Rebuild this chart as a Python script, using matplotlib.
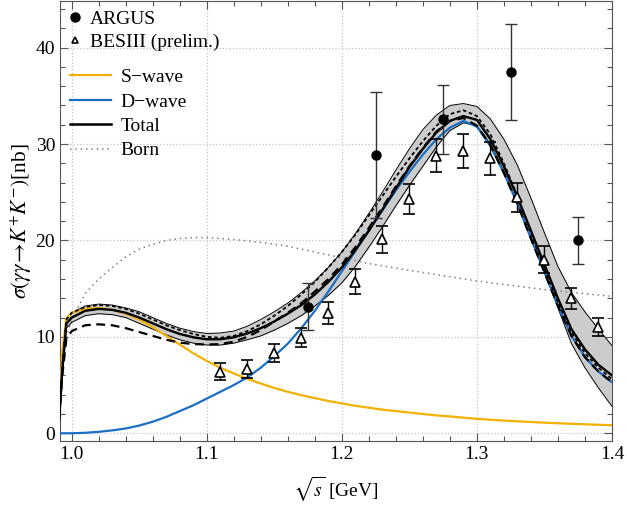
import numpy as np
import matplotlib
matplotlib.use('Agg')
import matplotlib.pyplot as plt
from matplotlib.ticker import MultipleLocator
from matplotlib.lines import Line2D

plt.rcParams['font.family'] = ['Liberation Serif', 'DejaVu Serif']
plt.rcParams['mathtext.fontset'] = 'stix'

# datos experimentales
argus_x = [1.175, 1.225, 1.275, 1.325, 1.375]
argus_y = [13.1, 28.9, 32.6, 37.5, 20.0]
argus_lo = [2.4, 6.6, 3.6, 5.0, 2.4]
argus_hi = [2.5, 6.5, 3.5, 5.0, 2.4]

bes_x = [1.11, 1.13, 1.15, 1.17, 1.19, 1.21, 1.23, 1.25, 1.27, 1.29, 1.31, 1.33, 1.35, 1.37, 1.39]
bes_y = [6.4, 6.7, 8.3, 9.9, 12.5, 15.7, 20.1, 24.3, 28.8, 29.3, 28.5, 24.5, 18.0, 14.0, 11.0]
bes_err = [0.9, 0.95, 0.95, 1.0, 1.15, 1.3, 1.4, 1.6, 1.75, 1.75, 1.75, 1.5, 1.4, 1.1, 0.95]

# curvas teoricas
xs = [0.99, 0.993, 0.996, 1.0, 1.01, 1.02, 1.03, 1.04, 1.05, 1.06, 1.07, 1.08, 1.09,
      1.10, 1.11, 1.12, 1.13, 1.14, 1.15, 1.16, 1.17, 1.18, 1.19, 1.20, 1.21, 1.22,
      1.23, 1.24, 1.25, 1.26, 1.27, 1.28, 1.29, 1.30, 1.31, 1.32, 1.33, 1.34, 1.35,
      1.36, 1.37, 1.38, 1.39, 1.40]
s_wave = [0.0, 8.5, 11.9, 12.5, 12.9, 13.0, 12.8, 12.4, 11.8, 11.0, 10.1, 9.2, 8.3,
          7.5, 6.8, 6.2, 5.65, 5.15, 4.7, 4.3, 3.95, 3.65, 3.35, 3.1, 2.85, 2.65,
          2.45, 2.3, 2.15, 2.0, 1.85, 1.75, 1.62, 1.5, 1.4, 1.32, 1.24, 1.17, 1.1,
          1.04, 0.98, 0.93, 0.88, 0.84]
d_wave = [0.0, 0.0, 0.0, 0.0, 0.05, 0.15, 0.3, 0.5, 0.8, 1.2, 1.7, 2.3, 2.9,
          3.6, 4.3, 5.0, 5.8, 6.8, 8.0, 9.3, 10.9, 12.7, 14.7, 16.8, 18.9, 21.1,
          23.1, 25.2, 27.1, 28.9, 30.5, 31.7, 32.4, 31.8, 29.8, 27.0, 23.8, 20.2, 16.7,
          13.2, 10.1, 7.9, 6.4, 5.3]
total = [0.0, 6.5, 11.4, 12.0, 12.7, 12.9, 12.8, 12.5, 12.0, 11.4, 10.8, 10.3, 9.95,
         9.75, 9.75, 9.95, 10.35, 10.9, 11.6, 12.4, 13.3, 14.4, 15.7, 17.2, 19.0, 21.0,
         23.2, 25.4, 27.6, 29.5, 31.2, 32.4, 32.9, 32.5, 30.5, 27.7, 24.5, 21.0, 17.5,
         14.0, 10.8, 8.7, 7.1, 6.0]
band_lo = [0.0, 6.0, 10.9, 11.5, 12.2, 12.4, 12.3, 12.0, 11.4, 10.8, 10.2, 9.7, 9.35,
           9.15, 9.15, 9.35, 9.7, 10.1, 10.7, 11.4, 12.2, 13.2, 14.3, 15.6, 17.3, 19.3,
           21.4, 23.6, 25.7, 27.7, 29.7, 31.4, 32.2, 31.9, 30.0, 27.2, 23.9, 20.3, 16.8,
           13.0, 9.3, 6.8, 4.7, 2.8]
band_hi = [0.0, 7.0, 11.9, 12.5, 13.2, 13.4, 13.3, 13.0, 12.6, 12.0, 11.4, 10.9, 10.55,
           10.35, 10.4, 10.6, 11.1, 11.8, 12.6, 13.5, 14.6, 15.8, 17.2, 18.8, 20.7, 22.8,
           25.0, 27.3, 29.5, 31.5, 33.0, 34.0, 34.2, 33.9, 32.6, 30.5, 27.8, 24.4, 20.8,
           17.3, 14.6, 12.6, 10.8, 9.1]
dash_a = [0.0, 6.0, 9.8, 10.6, 11.2, 11.3, 11.2, 10.9, 10.5, 10.1, 9.7, 9.4, 9.25,
          9.2, 9.25, 9.5, 10.0, 10.7, 11.6, 12.5, 13.5, 14.7, 16.0, 17.5, 19.3, 21.3,
          23.4, 25.6, 27.7, 29.6, 31.3, 32.4, 32.7, 31.9, 29.9, 27.0, 23.8, 20.2, 16.7,
          13.2, 10.1, 7.9, 6.4, 5.3]
dash_b = [0.0, 7.0, 11.8, 12.5, 13.1, 13.3, 13.2, 12.9, 12.4, 11.8, 11.2, 10.7, 10.3,
          10.0, 9.9, 10.1, 10.6, 11.3, 12.2, 13.2, 14.4, 15.7, 17.2, 18.8, 20.6, 22.6,
          24.6, 26.6, 28.5, 30.3, 31.9, 33.1, 33.5, 32.9, 31.0, 28.0, 24.6, 20.8, 17.1,
          13.6, 10.5, 8.3, 6.8, 5.6]

born_x = [0.99, 0.992, 0.995, 1.0, 1.006, 1.01, 1.02, 1.03, 1.04, 1.05, 1.06, 1.07,
          1.08, 1.09, 1.10, 1.12, 1.14, 1.16, 1.18, 1.20, 1.22, 1.25, 1.30, 1.35, 1.40]
born_y = [0.0, 6.0, 9.5, 11.8, 13.4, 14.5, 16.0, 17.2, 18.3, 19.1, 19.6, 20.0,
          20.2, 20.3, 20.3, 20.1, 19.8, 19.4, 18.8, 18.2, 17.6, 16.9, 15.8, 14.9, 14.2]

orange = '#F2B100'
blue = '#1A6FC4'

fig = plt.figure(figsize=(6.27, 5.08), dpi=100)
ax = fig.add_axes([0.0957, 0.1325, 0.8803, 0.866])

ax.fill_between(xs, band_lo, band_hi, color='#cccccc', lw=0, zorder=2)
ax.plot(xs, band_lo, color='black', lw=0.7, zorder=3)
ax.plot(xs, band_hi, color='black', lw=0.7, zorder=3)
ax.plot(born_x, born_y, color='gray', lw=1.1, ls=(0, (1, 2.5)), zorder=2)
ax.plot(xs, s_wave, color=orange, lw=1.6, zorder=4)
ax.plot(xs, d_wave, color=blue, lw=1.6, zorder=4)
ax.plot(xs, dash_a, color='black', lw=1.6, ls=(0, (4, 2.5)), zorder=5)
ax.plot(xs, dash_b, color='black', lw=1.3, ls=(0, (2, 1.5)), zorder=5)
ax.plot(xs, total, color='black', lw=1.7, zorder=6)

ax.errorbar(argus_x, argus_y, yerr=[argus_lo, argus_hi], fmt='o', color='black',
            ecolor='#333333', elinewidth=1.0, capsize=4, capthick=1.0, ms=6.5, zorder=7)
ax.errorbar(bes_x, bes_y, yerr=bes_err, fmt='^', mfc='white', mec='black', mew=1.2,
            ecolor='black', elinewidth=1.0, capsize=4, capthick=1.0, ms=7, zorder=7)

ax.set_xlim(0.9913, 1.4)
ax.set_ylim(-0.77, 44.86)
ax.xaxis.set_major_locator(MultipleLocator(0.1))
ax.xaxis.set_minor_locator(MultipleLocator(0.02))
ax.yaxis.set_major_locator(MultipleLocator(10))
ax.yaxis.set_minor_locator(MultipleLocator(2))
ax.set_xticks([1.0, 1.1, 1.2, 1.3, 1.4])
ax.set_xticklabels(['1.0', '1.1', '1.2', '1.3', '1.4'])
ax.tick_params(which='both', direction='in', top=True, right=True, labelsize=14,
               color='#555555')
ax.tick_params(which='major', length=6, width=0.8)
ax.tick_params(which='minor', length=3.5, width=0.8)
for sp in ax.spines.values():
    sp.set_color('#555555')
ax.grid(True, which='major', color='#c4c4c4', ls=':', lw=0.9, zorder=0)
ax.set_axisbelow(True)

ax.set_xlabel(r'$\sqrt{s}$ [GeV]', fontsize=14, labelpad=9)
ax.set_ylabel(r'$\sigma(\gamma\gamma\!\to\! K^{+}K^{-})$[nb]', fontsize=15.5, labelpad=1)

h1 = [Line2D([], [], marker='o', color='black', ls='none', ms=6.5),
      Line2D([], [], marker='^', mfc='white', mec='black', mew=1.2, ls='none', ms=5)]
leg1 = ax.legend(h1, ['ARGUS', 'BESIII (prelim.)'], loc='upper left', fontsize=14,
                 frameon=False, handlelength=0.8, handletextpad=0.4,
                 borderaxespad=0.1, labelspacing=0.25, bbox_to_anchor=(-0.005, 1.0))
ax.add_artist(leg1)
h2 = [Line2D([], [], color=orange, lw=1.6), Line2D([], [], color=blue, lw=1.6),
      Line2D([], [], color='black', lw=1.8),
      Line2D([], [], color='gray', lw=1.1, ls=(0, (1, 2.5)))]
ax.legend(h2, ['S\u2212wave', 'D\u2212wave', 'Total', 'Born'], loc='upper left',
          fontsize=14, frameon=False, handlelength=2.1, handletextpad=0.5,
          borderaxespad=0.1, labelspacing=0.35, bbox_to_anchor=(0.0, 0.868))

fig.savefig('out.png', dpi=100)
